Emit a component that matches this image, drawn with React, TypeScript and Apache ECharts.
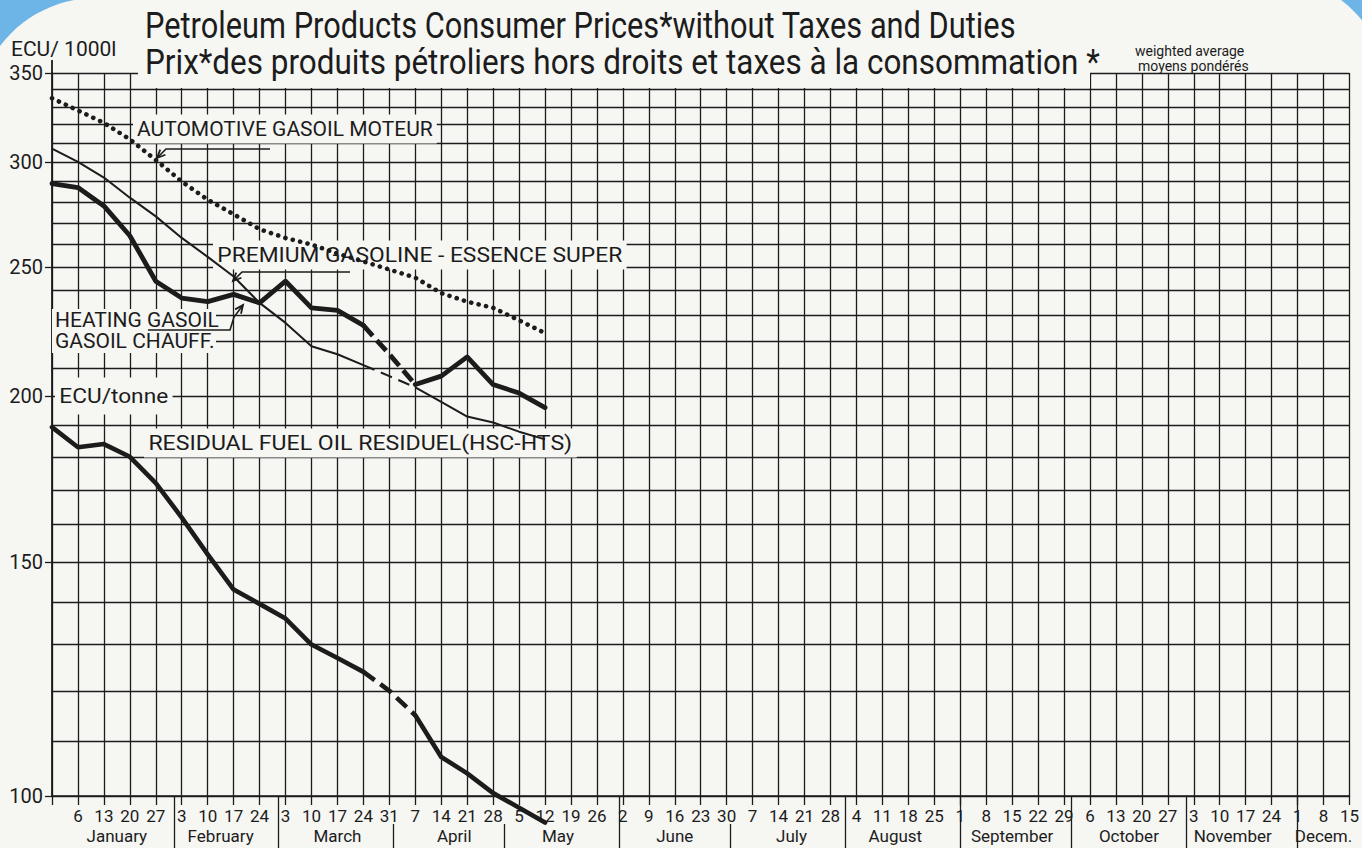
import React, { useEffect, useRef } from "react";
import * as echarts from "echarts";

// ---------- data ----------
const weekDates = [
  "1985-12-30", "1986-01-06", "1986-01-13", "1986-01-20", "1986-01-27",
  "1986-02-03", "1986-02-10", "1986-02-17", "1986-02-24",
  "1986-03-03", "1986-03-10", "1986-03-17", "1986-03-24", "1986-03-31",
  "1986-04-07", "1986-04-14", "1986-04-21", "1986-04-28",
  "1986-05-05", "1986-05-12", "1986-05-19", "1986-05-26",
  "1986-06-02", "1986-06-09", "1986-06-16", "1986-06-23", "1986-06-30",
  "1986-07-07", "1986-07-14", "1986-07-21", "1986-07-28",
  "1986-08-04", "1986-08-11", "1986-08-18", "1986-08-25",
  "1986-09-01", "1986-09-08", "1986-09-15", "1986-09-22", "1986-09-29",
  "1986-10-06", "1986-10-13", "1986-10-20", "1986-10-27",
  "1986-11-03", "1986-11-10", "1986-11-17", "1986-11-24",
  "1986-12-01", "1986-12-08", "1986-12-15",
];

const monthNames = [
  "January", "February", "March", "April", "May", "June",
  "July", "August", "September", "October", "November", "Decem.",
];
const monthStarts = [
  "1986-01-01", "1986-02-01", "1986-03-01", "1986-04-01", "1986-05-01", "1986-06-01",
  "1986-07-01", "1986-08-01", "1986-09-01", "1986-10-01", "1986-11-01", "1986-12-01",
];
const shortSeparatorMonths = ["1986-04-01", "1986-05-01", "1986-07-01"];

// ECU / 1000 l (gasoil, premium, heating) and ECU / tonne (residual)
const automotiveGasoil = [335, 328, 321, 312, 301, 290, 281, 274, 267, 263, 260, 256, 252.5, 249, 245.5, 239, 235.5, 233, 228, 223];
const premiumGasoline = [307, 300, 292, 282, 273, 263, 254.5, 246, 235, 227, 218, 215, 211, 207, 203, 198, 193, 191, 188, 185.5];
const heatingGasoil = [289, 287, 278, 264, 244, 237, 235.5, 238.5, 235, 244, 233, 232, 226, 215, 204, 207, 214, 204, 201, 196];
const residualFuelOil = [189.5, 183, 184, 180, 172, 162, 152, 143, 139.5, 136, 130, 127, 124, 120, 115, 107, 104, 100.5, 98, 95.5];

const yLabelValues = [100, 150, 200, 250, 300, 350];
const yGridValues = [100, 110, 120, 130, 140, 150, 160, 170, 180, 190, 200, 210, 220, 230, 240, 250, 260, 270, 280, 290, 300, 310, 320, 330, 340, 350];

const DASH_START = 12;
const DASH_END = 14;

// ---------- styling ----------
const INK = "#1c1c1c";
const PAPER = "#f6f6f3";
const BLUE = "#6db5e6";
const FONT = "Roboto, 'DejaVu Sans', sans-serif";

const DAY = 864e5;
const t0 = Date.parse(weekDates[0]);
const toWeekPos = (d: string) => (Date.parse(d) - t0) / (7 * DAY);

const monthMids = monthStarts.map((ms) => {
  const m = ms.slice(0, 7);
  const idx = weekDates.map((d, i) => (d.startsWith(m) ? i : -1)).filter((i) => i >= 0);
  return (idx[0] + idx[idx.length - 1]) / 2;
});
const fullSeps = monthStarts.slice(1).filter((d) => !shortSeparatorMonths.includes(d)).map(toWeekPos);
const shortSeps = shortSeparatorMonths.map(toWeekPos);

const solidPart = (vals: number[]) => vals.map((v, i) => (i > DASH_START && i < DASH_END ? null : v));
const dashedPart = (vals: number[]) => vals.map((v, i) => (i >= DASH_START && i <= DASH_END ? v : null));

function arrow(points: number[][]) {
  const n = points.length;
  const [tx, ty] = points[n - 1];
  const [fx, fy] = points[n - 2];
  const ang = Math.atan2(ty - fy, tx - fx);
  const L = 9;
  const a = 0.42;
  const p1 = [tx - L * Math.cos(ang - a), ty - L * Math.sin(ang - a)];
  const p2 = [tx - L * Math.cos(ang + a), ty - L * Math.sin(ang + a)];
  return [
    { type: "polyline", z: 3, shape: { points }, style: { stroke: INK, lineWidth: 1.6, fill: null } },
    { type: "polyline", z: 3, shape: { points: [p1, [tx, ty], p2] }, style: { stroke: INK, lineWidth: 1.8, fill: null } },
  ];
}

function label(text: string, x: number, y: number, size: number, scaleX = 1, bg = true, padding: number[] = [4, 4]) {
  return {
    type: "text",
    z: 2,
    x,
    y,
    scaleX,
    style: {
      text,
      font: `${size}px ${FONT}`,
      fill: INK,
      textVerticalAlign: "middle",
      backgroundColor: bg ? PAPER : undefined,
      padding: bg ? padding : 0,
    },
  };
}

export default function App() {
  const ref = useRef<HTMLDivElement>(null);

  useEffect(() => {
    if (!ref.current) return;
    const chart = echarts.init(ref.current, null, { renderer: "svg" });
    const lineBase = { type: "line", symbol: "none", xAxisIndex: 0, yAxisIndex: 0, z: 5 };

    const option: any = {
      animation: false,
      backgroundColor: PAPER,
      grid: { left: 52, right: 6, top: 73, bottom: 52, containLabel: false },
      xAxis: [
        {
          type: "category",
          data: weekDates,
          boundaryGap: false,
          axisLine: { show: true, lineStyle: { color: INK, width: 1.6 } },
          axisTick: { show: true, interval: 0, length: 9, lineStyle: { color: INK, width: 1.3 } },
          axisLabel: {
            interval: 0,
            margin: 11,
            color: INK,
            fontSize: 17,
            fontFamily: FONT,
            formatter: (v: string, i: number) => (i === 0 ? "" : String(Number(v.slice(8)))),
          },
          splitLine: { show: true, interval: 0, lineStyle: { color: INK, width: 1.3 } },
        },
        {
          type: "value",
          min: 0,
          max: 50,
          position: "bottom",
          axisLine: { show: false },
          splitLine: { show: false },
          axisTick: { show: true, customValues: fullSeps, length: 52, lineStyle: { color: INK, width: 1.3 } },
          axisLabel: {
            customValues: monthMids,
            margin: 31,
            color: INK,
            fontSize: 17,
            fontFamily: FONT,
            formatter: (v: number) => {
              let best = 0;
              monthMids.forEach((m, i) => {
                if (Math.abs(m - v) < Math.abs(monthMids[best] - v)) best = i;
              });
              return monthNames[best];
            },
          },
        },
        {
          type: "value",
          min: 0,
          max: 50,
          position: "bottom",
          offset: 28,
          axisLine: { show: false },
          splitLine: { show: false },
          axisTick: { show: true, customValues: shortSeps, length: 24, lineStyle: { color: INK, width: 1.3 } },
          axisLabel: { show: false },
        },
      ],
      yAxis: [
        {
          type: "log",
          logBase: 10,
          min: 100,
          max: 350,
          axisLine: { show: true, lineStyle: { color: INK, width: 1.8 } },
          axisTick: { show: true, customValues: yLabelValues, length: 7, lineStyle: { color: INK, width: 1.3 } },
          axisLabel: { customValues: yLabelValues, margin: 9, color: INK, fontSize: 20, fontFamily: FONT },
          splitLine: { show: false },
        },
        {
          type: "log",
          logBase: 10,
          min: 100,
          max: 350,
          position: "left",
          axisLine: { show: false },
          axisTick: { show: false, customValues: yGridValues },
          axisLabel: { show: false },
          splitLine: { show: true, lineStyle: { color: INK, width: 1.3 } },
        },
      ],
      series: [
        {
          ...lineBase,
          name: "Automotive gasoil",
          data: automotiveGasoil,
          lineStyle: { color: INK, width: 4.6, type: [0.1, 7.5], cap: "round" },
        },
        {
          ...lineBase,
          name: "Premium gasoline",
          data: solidPart(premiumGasoline),
          lineStyle: { color: INK, width: 2, join: "round" },
        },
        {
          ...lineBase,
          name: "Premium gasoline (dashed)",
          data: dashedPart(premiumGasoline),
          lineStyle: { color: INK, width: 2, type: [12, 7] },
        },
        {
          ...lineBase,
          name: "Heating gasoil",
          data: solidPart(heatingGasoil),
          lineStyle: { color: INK, width: 4.8, join: "round", cap: "round" },
        },
        {
          ...lineBase,
          name: "Heating gasoil (dashed)",
          data: dashedPart(heatingGasoil),
          lineStyle: { color: INK, width: 4.8, type: [14, 6] },
        },
        {
          ...lineBase,
          name: "Residual fuel oil",
          data: solidPart(residualFuelOil),
          clip: false,
          lineStyle: { color: INK, width: 4.6, join: "round", cap: "round" },
        },
        {
          ...lineBase,
          name: "Residual fuel oil (dashed)",
          data: dashedPart(residualFuelOil),
          lineStyle: { color: INK, width: 4.6, type: [14, 7] },
        },
      ],
      graphic: {
        elements: [
          // blue page corners
          { type: "rect", z: -10, shape: { x: 0, y: 0, width: 100, height: 50 }, style: { fill: BLUE } },
          { type: "circle", z: -9, shape: { cx: 96, cy: 118, r: 120 }, style: { fill: PAPER } },
          { type: "rect", z: -10, shape: { x: 1300, y: 0, width: 62, height: 40 }, style: { fill: BLUE } },
          { type: "circle", z: -9, shape: { cx: 1269, cy: 96, r: 120 }, style: { fill: PAPER } },
          // y-axis line continues a little above 350
          { type: "line", z: 1, shape: { x1: 52, y1: 60, x2: 52, y2: 73 }, style: { stroke: INK, lineWidth: 1.8 } },
          // title backdrop
          { type: "rect", z: 1, shape: { x: 138, y: 36, width: 952, height: 52 }, style: { fill: PAPER } },
          {
            type: "text", z: 2, x: 145, y: 26, scaleX: 0.855,
            style: { text: "Petroleum Products Consumer Prices*without Taxes and Duties", font: `36px ${FONT}`, fill: INK, textVerticalAlign: "middle" },
          },
          {
            type: "text", z: 2, x: 145, y: 62, scaleX: 0.874,
            style: { text: "Prix*des produits pétroliers hors droits et taxes à la consommation *", font: `36px ${FONT}`, fill: INK, textVerticalAlign: "middle" },
          },
          { type: "text", z: 2, x: 1135, y: 51, style: { text: "weighted average", font: `14px ${FONT}`, fill: INK, textVerticalAlign: "middle" } },
          { type: "text", z: 2, x: 1138, y: 66, style: { text: "moyens pondérés", font: `14px ${FONT}`, fill: INK, textVerticalAlign: "middle" } },
          { type: "text", z: 2, x: 11, y: 49, style: { text: "ECU/ 1000l", font: `21px ${FONT}`, fill: INK, textVerticalAlign: "middle" } },
          // annotations
          label("AUTOMOTIVE GASOIL MOTEUR", 133, 129, 21, 1.0),
          label("PREMIUM GASOLINE - ESSENCE SUPER", 213, 255, 21, 1.085),
          { type: "rect", z: 1, shape: { x: 52, y: 309, width: 164, height: 44 }, style: { fill: PAPER } },
          label("HEATING GASOIL", 55, 320, 20, 1.05, false),
          label("GASOIL CHAUFF.", 55, 341, 20, 1.05, false),
          label("RESIDUAL FUEL OIL RESIDUEL(HSC-HTS)", 144, 443, 21, 1.1),
          label("ECU/tonne", 55, 396, 21, 1.08, true, [8, 4]),
          ...arrow([[270, 149], [166, 149], [157, 158]]),
          ...arrow([[350, 272], [242, 272], [233, 281]]),
          ...arrow([[148, 330], [230, 330], [234, 317], [243, 305]]),
        ],
      },
    };

    chart.setOption(option);
    return () => chart.dispose();
  }, []);

  return <div ref={ref} style={{ position: "fixed", left: 0, top: 0, width: 1362, height: 848 }} />;
}
